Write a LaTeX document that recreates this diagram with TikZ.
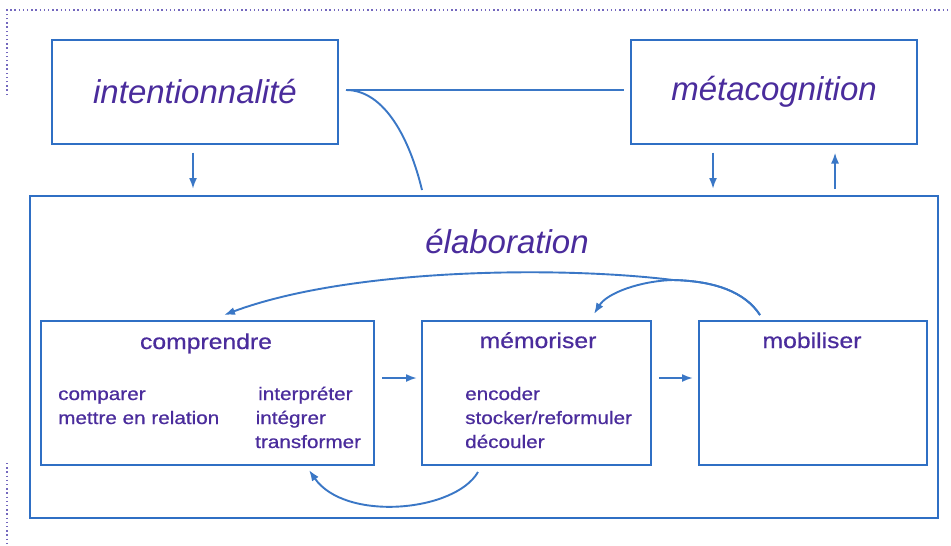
\documentclass[tikz,border=0pt]{standalone}
\usepackage{fontspec}
\setmainfont{Liberation Sans}
\newfontfamily\widesans[FakeStretch=1.15,FakeBold=0.6]{Liberation Sans}
\usetikzlibrary{arrows.meta}
\definecolor{boxblue}{HTML}{2F6FC4}
\definecolor{lineblue}{HTML}{3A77C6}
\definecolor{txt}{HTML}{4A2C9C}
\definecolor{dotc}{HTML}{7468BE}
\tikzset{
  bigbox/.style={draw=boxblue, line width=2pt, minimum width=286pt, minimum height=104pt, inner sep=0pt, text=txt, font=\fontsize{33}{38}\selectfont\itshape},
  subbox/.style={draw=boxblue, line width=2pt, minimum height=144pt, inner sep=0pt},
  btitle/.style={text=txt, font=\widesans\fontsize{21.5}{26}\selectfont, inner sep=0pt, anchor=base},
  items/.style={text=txt, font=\widesans\fontsize{18}{23}\selectfont, inner sep=0pt, anchor=base west},
  conn/.style={draw=lineblue, line width=1.9pt},
  arr/.style={conn, -{Latex[length=11pt,width=8pt]}},
  dotline/.style={draw=dotc, line width=1.8pt, dash pattern=on 1.4pt off 2.8pt}
}
\begin{document}
\begin{tikzpicture}[x=1pt,y=-1pt]
\useasboundingbox[fill=white] (0,0) rectangle (951,546);
% dotted frame fragments
\coordinate (d1) at (7,95);
\coordinate (d2) at (7,10);
\coordinate (d3) at (951,10);
\coordinate (d4) at (7,463);
\coordinate (d5) at (7,546);
\draw[dotline] (d1) -- (d2) -- (d3);
\draw[dotline] (d4) -- (d5);
% top boxes
\node[bigbox] (intent) at (195,91.5) {intentionnalité};
\node[bigbox] (meta) at (774,91.5) {métacognition};
% elaboration box
\node[draw=boxblue, line width=2pt, minimum width=908pt, minimum height=322pt, inner sep=0pt] (elab) at (484,357) {};
\node[text=txt, font=\fontsize{33}{38}\selectfont\itshape, inner sep=0pt] (elabt) at (507,242) {élaboration};
% sub boxes
\node[subbox, minimum width=333pt] (comp) at (207.5,393) {};
\node[subbox, minimum width=229pt] (mem) at (536.5,393) {};
\node[subbox, minimum width=228pt] (mob) at (813,393) {};
\node[btitle] (compt) at (206,349) {comprendre};
\node[btitle] (memt) at (538,348) {mémoriser};
\node[btitle] (mobt) at (812,348) {mobiliser};
\node[items] (c1a) at (58,400) {comparer};
\node[items] (c1b) at (58,424) {mettre en relation};
\node[items] (c2a) at (258,400) {interpréter};
\node[items] (c2b) at (255.5,424) {intégrer};
\node[items] (c2c) at (255,448) {transformer};
\node[items] (m1a) at (465,400) {encoder};
\node[items] (m1b) at (465,424) {stocker/reformuler};
\node[items] (m1c) at (465,448) {découler};
% top connectors
\draw[conn, shorten <=7pt, shorten >=6pt] ([yshift=1.5pt]intent.east) -- ([yshift=1.5pt]meta.west);
\coordinate (j) at ([xshift=7pt,yshift=1.5pt]intent.east);
\coordinate (e1) at ([xshift=-62pt,yshift=5pt]elab.north);
\draw[conn] (j) .. controls (385,90) and (410,140) .. (e1);
\draw[arr, shorten <=8pt, shorten >=6pt] ([xshift=-2pt]intent.south) -- ([xshift=-2pt]intent.south |- elab.north);
\draw[arr, shorten <=8pt, shorten >=6pt] ([xshift=-61pt]meta.south) -- ([xshift=-61pt]meta.south |- elab.north);
\draw[arr, shorten <=6pt, shorten >=8pt] ([xshift=61pt]meta.south |- elab.north) -- ([xshift=61pt]meta.south);
% horizontal arrows between sub boxes
\draw[arr, shorten <=7pt, shorten >=4pt] ([yshift=15pt]comp.east) -- ([yshift=15pt]comp.east -| mem.west);
\draw[arr, shorten <=7pt, shorten >=5pt] ([yshift=15pt]mem.east) -- ([yshift=15pt]mem.east -| mob.west);
% feedback curves
\coordinate (mobtop) at ([xshift=-53pt,yshift=5pt]mob.north);
\coordinate (comptop) at ([xshift=16.5pt,yshift=5pt]comp.north);
\coordinate (memtop) at ([xshift=57.5pt,yshift=6pt]mem.north);
\draw[arr] (mobtop) .. controls (745,292) and (715,281) .. (673,280) .. controls (560,266) and (350,268) .. (comptop);
\draw[arr] (mobtop) .. controls (745,292) and (715,281) .. (673,280) .. controls (640,281) and (607,293) .. (memtop);
\coordinate (membot) at ([xshift=-58.5pt,yshift=-6pt]mem.south);
\coordinate (compbot) at ([xshift=101.5pt,yshift=-4pt]comp.south);
\draw[arr] (membot) .. controls (455,512) and (345,522) .. (compbot);
\end{tikzpicture}
\end{document}
